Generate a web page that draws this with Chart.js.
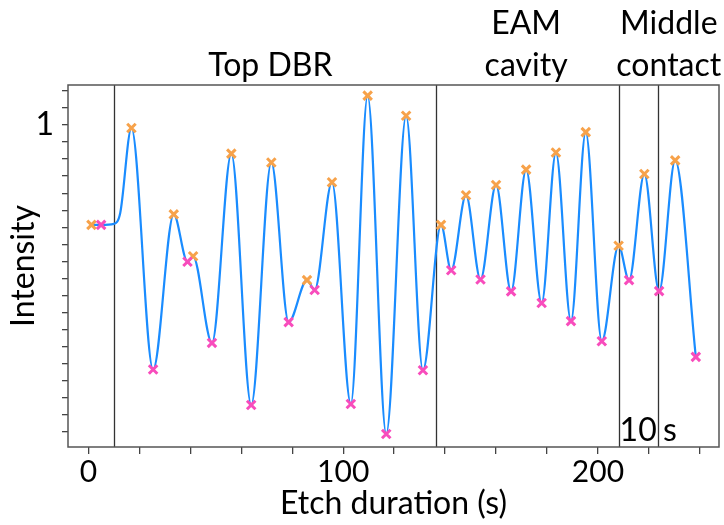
<!DOCTYPE html>
<html><head><meta charset="utf-8">
<script src="https://cdn.jsdelivr.net/npm/chart.js@4/dist/chart.umd.min.js"></script>
<style>html,body{margin:0;padding:0;background:#fff}#wrap{width:724px;height:525px}</style>
</head><body><div id="wrap"><canvas id="c" width="724" height="525"></canvas></div>
<script>
// ---- data ----
const peakTimes   = [1.2, 16.9, 33.5, 41.1, 56.1, 71.8, 85.8, 95.6, 109.6, 124.7, 138.4, 148.2, 160.0, 171.8, 183.5, 195.2, 208.1, 218.2, 230.3];
const peakValues  = [0.707, 0.991, 0.738, 0.615, 0.916, 0.890, 0.545, 0.832, 1.086, 1.027, 0.707, 0.794, 0.824, 0.869, 0.919, 0.979, 0.646, 0.856, 0.896];
const valleyTimes  = [5.0, 25.4, 38.9, 48.5, 63.9, 78.6, 88.8, 103.0, 116.9, 131.3, 142.4, 153.9, 165.9, 177.9, 189.4, 201.5, 212.2, 224.0, 238.4];
const valleyValues = [0.707, 0.283, 0.599, 0.361, 0.179, 0.422, 0.516, 0.182, 0.094, 0.281, 0.574, 0.547, 0.512, 0.478, 0.425, 0.366, 0.545, 0.513, 0.320];
const shoulderTimes  = [10.0, 12.5];
const shoulderValues = [0.710, 0.742];
const boundaryTimes = [10.2, 136.6, 208.1, 223.6];
const sectionNames = [["Top DBR"], ["EAM", "cavity"], ["Middle", "contact"]];
const sectionCenters = [71.4, 171.8, 227.8];
const xTickValues = [0, 20, 40, 60, 80, 100, 120, 140, 160, 180, 200, 220, 240];
const xTickLabels = [0, 100, 200];
const yTickValues = [0.1, 0.15, 0.2, 0.25, 0.3, 0.35, 0.4, 0.45, 0.5, 0.55, 0.6, 0.65, 0.7, 0.75, 0.8, 0.85, 0.9, 0.95, 1, 1.05, 1.1];
const yTickLabels = [1];
const stepNote = ["10", "s"];

// ---- build datasets ----
const peaks = peakTimes.map((t, i) => ({x: t, y: peakValues[i]}));
const valleys = valleyTimes.map((t, i) => ({x: t, y: valleyValues[i]}));
const shoulders = shoulderTimes.map((t, i) => ({x: t, y: shoulderValues[i]}));
const signal = peaks.concat(valleys, shoulders).sort((a, b) => a.x - b.x);

const FONT = "Lato, 'Noto Sans', sans-serif";

const decor = {
  id: 'decor',
  beforeDatasetsDraw(chart) {
    const {ctx, chartArea: a, scales: {x}} = chart;
    ctx.save();
    ctx.strokeStyle = '#333';
    ctx.lineWidth = 1.3;
    boundaryTimes.forEach(t => {
      const px = Math.round(x.getPixelForValue(t)) + 0.5;
      ctx.beginPath(); ctx.moveTo(px, a.top); ctx.lineTo(px, a.bottom); ctx.stroke();
    });
    ctx.restore();
  },
  afterDraw(chart) {
    const {ctx, chartArea: a, scales: {x}} = chart;
    ctx.save();
    ctx.strokeStyle = '#555';
    ctx.lineWidth = 1.5;
    ctx.strokeRect(a.left, a.top, a.right - a.left, a.bottom - a.top);
    ctx.fillStyle = '#000';
    ctx.font = '32px ' + FONT;
    ctx.textAlign = 'center';
    ctx.textBaseline = 'alphabetic';
    sectionNames.forEach((lines, i) => {
      const cx = x.getPixelForValue(sectionCenters[i]);
      const n = lines.length;
      lines.forEach((s, j) => {
        ctx.fillText(s, cx, a.top - 9 - (n - 1 - j) * 42);
      });
    });
    ctx.textAlign = 'left';
    const l0 = x.getPixelForValue(boundaryTimes[2]);
    const l1 = x.getPixelForValue(boundaryTimes[3]);
    ctx.fillText(stepNote[0], l0 + 1, a.bottom - 6);
    ctx.fillText(stepNote[1], l1 + 5, a.bottom - 6);
    ctx.restore();
  }
};

new Chart(document.getElementById('c'), {
  type: 'line',
  data: {
    datasets: [
      {data: signal, borderColor: '#1a8cff', borderWidth: 2.2, pointRadius: 0,
       cubicInterpolationMode: 'monotone', fill: false, order: 3},
      {type: 'scatter', data: peaks, pointStyle: 'crossRot', pointRadius: 6,
       borderColor: '#f7a24a', backgroundColor: '#f7a24a', borderWidth: 3, showLine: false, order: 2},
      {type: 'scatter', data: valleys, pointStyle: 'crossRot', pointRadius: 6,
       borderColor: '#f84cbc', backgroundColor: '#f84cbc', borderWidth: 3, showLine: false, order: 1}
    ]
  },
  options: {
    responsive: false, animation: false, devicePixelRatio: 1,
    layout: {autoPadding: false, padding: {top: 85, right: 5, left: 0, bottom: 0}},
    plugins: {legend: {display: false}, tooltip: {enabled: false}},
    scales: {
      x: {
        type: 'linear', min: -8, max: 247.5,
        afterBuildTicks: s => { s.ticks = xTickValues.map(v => ({value: v})); },
        afterFit: s => { s.height = 78; s.paddingLeft = 0; s.paddingRight = 0; },
        ticks: {autoSkip: false, maxRotation: 0, padding: 0, color: '#000',
                font: {family: FONT, size: 30},
                callback: v => xTickLabels.includes(v) ? String(v) : ''},
        grid: {drawOnChartArea: false, drawTicks: true, tickLength: 7, color: '#444', lineWidth: 1.3},
        border: {display: false},
        title: {display: true, text: 'Etch duration (s)', color: '#000',
                font: {family: FONT, size: 32}, padding: {top: 0, bottom: 2}}
      },
      y: {
        type: 'linear', min: 0.056, max: 1.117,
        afterBuildTicks: s => { s.ticks = yTickValues.map(v => ({value: v})); },
        afterFit: s => { s.width = 68; s.paddingTop = 0; s.paddingBottom = 0; },
        ticks: {autoSkip: false, padding: 8, color: '#000',
                font: {family: FONT, size: 32},
                callback: v => yTickLabels.includes(v) ? String(v) : ''},
        grid: {drawOnChartArea: false, drawTicks: true, tickLength: 6, color: '#444', lineWidth: 1.3},
        border: {display: false},
        title: {display: true, text: 'Intensity', color: '#000',
                font: {family: FONT, size: 32}, padding: {top: 4, bottom: 0}}
      }
    }
  },
  plugins: [decor]
});
</script>
</body></html>
